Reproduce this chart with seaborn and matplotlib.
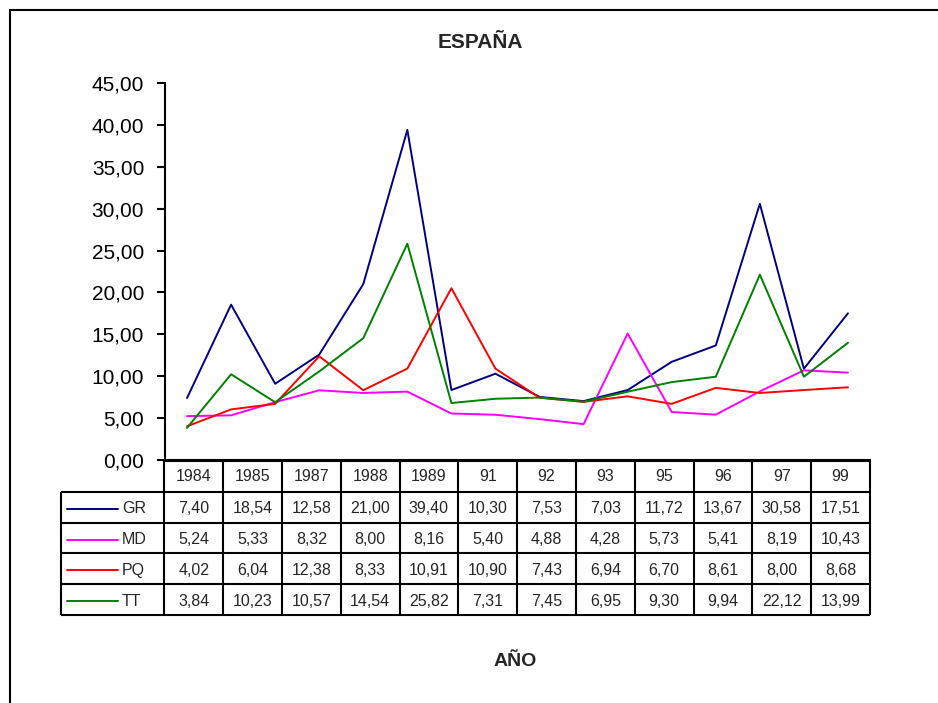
import numpy as np
import pandas as pd
import matplotlib
matplotlib.use("Agg")
import matplotlib.pyplot as plt
from matplotlib.lines import Line2D
import seaborn as sns

# ---------------- data ----------------
years = ['1984', '1985', '1986', '1987', '1988', '1989', '1990', '91',
         '92', '93', '94', '95', '96', '97', '98', '99']
table_years = ['1984', '1985', '1987', '1988', '1989', '91', '92', '93',
               '95', '96', '97', '99']
series_names = ['GR', 'MD', 'PQ', 'TT']
GR = [7.40, 18.54, 9.10, 12.58, 21.00, 39.40, 8.35, 10.30, 7.53, 7.03, 8.35, 11.72, 13.67, 30.58, 10.90, 17.51]
MD = [5.24, 5.33, 6.90, 8.32, 8.00, 8.16, 5.55, 5.40, 4.88, 4.28, 15.10, 5.73, 5.41, 8.19, 10.70, 10.43]
PQ = [4.02, 6.04, 6.70, 12.38, 8.33, 10.91, 20.50, 10.90, 7.43, 6.94, 7.60, 6.70, 8.61, 8.00, 8.35, 8.68]
TT = [3.84, 10.23, 6.90, 10.57, 14.54, 25.82, 6.80, 7.31, 7.45, 6.95, 8.15, 9.30, 9.94, 22.12, 9.94, 13.99]
colors = {'GR': '#000080', 'MD': '#ff00ff', 'PQ': '#ff0000', 'TT': '#008000'}
yticks = [0, 5, 10, 15, 20, 25, 30, 35, 40, 45]

values = {'GR': GR, 'MD': MD, 'PQ': PQ, 'TT': TT}
df = pd.DataFrame([
    {'year': y, 'pos': i, 'serie': s, 'value': values[s][i]}
    for s in series_names for i, y in enumerate(years)
])

sns.set_style('white')
plt.rcParams['font.family'] = ['Liberation Sans', 'DejaVu Sans']

W, H = 938, 703
fig = plt.figure(figsize=(W / 100, H / 100), dpi=100)

def fx(px):
    return px / W

def fy(py):
    return 1 - py / H

# ---------------- main line chart ----------------
ax = fig.add_axes([fx(165), fy(460), fx(870) - fx(165), fy(83) - fy(460)])
sns.lineplot(data=df, x='pos', y='value', hue='serie', palette=colors,
             hue_order=series_names, linewidth=1.4, legend=False, ax=ax,
             sort=False)
ax.set_xlim(-0.5, len(years) - 0.5)
ax.set_ylim(0, 45)
ax.set_yticks(yticks)
ax.set_yticklabels([f"{v:.2f}".replace('.', ',') for v in yticks], fontsize=15)
ax.set_xticks([])
ax.set_xlabel('')
ax.set_ylabel('')
for side in ['top', 'right']:
    ax.spines[side].set_visible(False)
for side in ['left', 'bottom']:
    ax.spines[side].set_color('black')
    ax.spines[side].set_linewidth(1.5)
ax.tick_params(axis='y', direction='out', length=6, width=1.5, pad=9,
               colors='black', left=True)

# ---------------- data table ----------------
tax = fig.add_axes([fx(61), fy(615), fx(870) - fx(61), fy(461) - fy(615)])
lab_w = (164.3 - 61) / 58.8
ncol = len(table_years)
nrow = len(series_names) + 1
tax.set_xlim(-lab_w, ncol)
tax.set_ylim(nrow, 0)
tax.axis('off')
lw = 1.5
tax.hlines(0, 0, ncol, color='black', lw=lw, clip_on=False)
for r in range(1, nrow + 1):
    tax.hlines(r, -lab_w, ncol, color='black', lw=lw, clip_on=False)
tax.vlines(-lab_w, 1, nrow, color='black', lw=lw, clip_on=False)
for c in range(ncol + 1):
    tax.vlines(c, 0, nrow, color='black', lw=lw, clip_on=False)

for c, y in enumerate(table_years):
    tax.text(c + 0.5, 0.5, y, ha='center', va='center', fontsize=11.5)
for r, s in enumerate(series_names, start=1):
    x0 = -lab_w + (67 - 61) / 58.8
    x1 = -lab_w + (118 - 61) / 58.8
    tax.plot([x0, x1], [r + 0.55, r + 0.55], color=colors[s], lw=1.4,
             clip_on=False)
    tax.text(-lab_w + (122 - 61) / 58.8, r + 0.55, s, ha='left',
             va='center', fontsize=11.5)
    for c, y in enumerate(table_years):
        v = values[s][years.index(y)]
        tax.text(c + 0.5, r + 0.55, f"{v:.2f}".replace('.', ','),
                 ha='center', va='center', fontsize=11.5)

# ---------------- titles and frame ----------------
fig.text(fx(480), fy(42), 'ESPAÑA', ha='center', va='center',
         fontsize=15, fontweight='bold')
fig.text(fx(515), fy(661), 'AÑO', ha='center', va='center',
         fontsize=14, fontweight='bold')
fig.add_artist(Line2D([fx(10), 1.0], [fy(10), fy(10)], color='black',
                      lw=1.5, transform=fig.transFigure))
fig.add_artist(Line2D([fx(10), fx(10)], [fy(10), 0.0], color='black',
                      lw=1.5, transform=fig.transFigure))

fig.savefig('out.png', dpi=100, facecolor='white')
